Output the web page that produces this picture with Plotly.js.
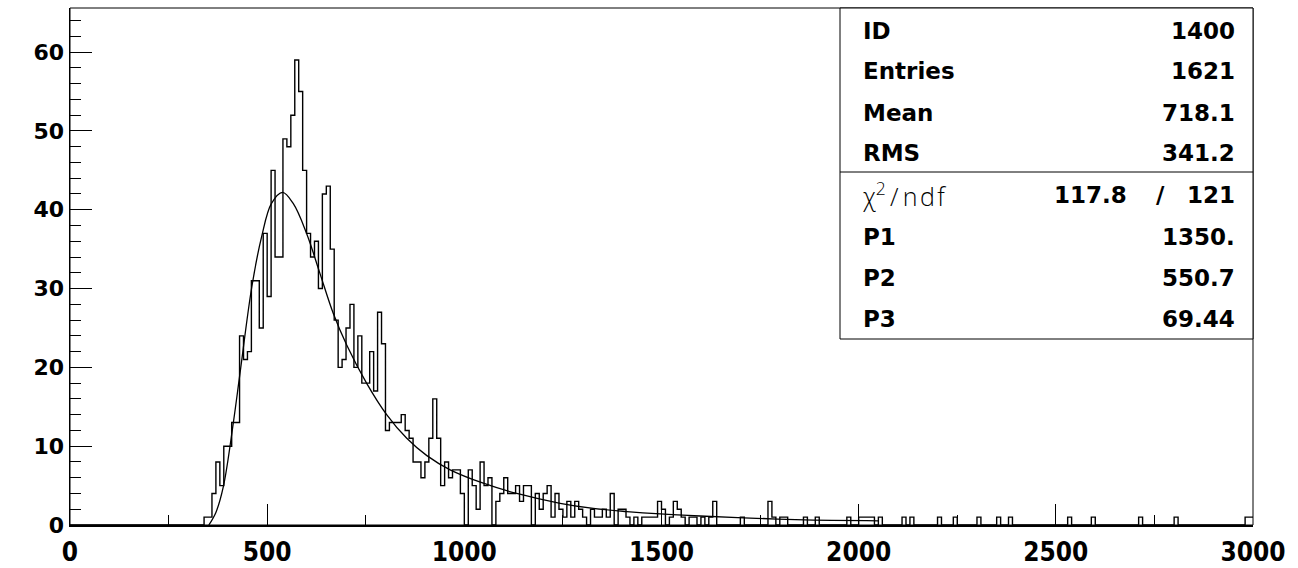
<!DOCTYPE html>
<html>
<head>
<meta charset="utf-8">
<script src="https://cdn.plot.ly/plotly-3.0.1.min.js"></script>
<style>html,body{margin:0;padding:0;background:#fff;}#chart{width:1298px;height:568px;}</style>
</head>
<body>
<div id="chart"></div>
<script>
// ---- Data ----
const binWidth = 10;
const firstBinLow = 340;
// bin contents from 340 to 3000, 10 per row
const counts = [
  1,1,4,8,5,10,10,13,13,24,
  21,22,31,31,25,37,29,45,34,34,
  49,48,52,59,55,45,37,34,36,30,
  42,43,35,26,20,21,25,28,20,24,
  18,18,22,17,27,23,12,13,13,13,
  14,12,11,8,8,6,8,11,16,11,
  5,8,6,7,7,4,0,7,5,2,
  8,5,6,0,3,4,6,4,4,5,
  3,5,5,0,4,2,4,5,1,4,
  2,1,3,1,3,2,1,0,2,1,
  1,2,1,4,0,2,2,1,0,1,
  0,1,1,1,1,3,2,0,1,3,
  2,1,0,1,1,0,1,0,1,3,
  0,0,0,0,0,0,1,0,0,0,
  0,0,0,3,1,0,1,1,0,0,
  0,0,1,0,0,1,0,0,0,0,
  0,0,0,1,0,0,1,1,1,1,
  0,1,0,0,0,0,0,1,0,1,
  0,0,0,0,0,0,1,0,0,0,
  1,0,0,0,0,0,1,0,0,0,
  0,1,0,0,1,0,0,0,0,0,
  0,0,0,0,0,0,0,0,0,1,
  0,0,0,0,0,1,0,0,0,0,
  0,0,0,0,0,0,0,1,0,0,
  0,0,0,0,0,0,1,0,0,0,
  0,0,0,0,0,0,0,0,0,0,
  0,0,0,0,1,1
];
// fitted curve
const fitX = [352, 370, 389, 414, 431, 461, 486, 511, 539, 566, 600, 634, 668, 702, 752, 803, 854, 905, 964, 1048, 1133, 1243, 1327, 1412, 1497, 1598, 1741, 1885, 2020, 2050];
const fitY = [0, 1.6, 4.9, 12.9, 19.2, 30.2, 36.6, 40.8, 42.2, 40.8, 37.0, 31.9, 26.8, 22.8, 18.0, 14.0, 11.0, 8.8, 7.0, 5.3, 4.0, 2.75, 2.1, 1.7, 1.4, 1.14, 0.85, 0.63, 0.55, 0.53];

const statLabels = ['ID', 'Entries', 'Mean', 'RMS'];
const statValues = ['1400', '1621', '718.1', '341.2'];
const fitLabels = ['P1', 'P2', 'P3'];
const fitValues = ['1350.', '550.7', '69.44'];
const chi2Text = '\u03C7<sup>2</sup>\u2009/\u2009n\u200Ad\u200Af';
const chi2Value = '117.8';
const ndfValue = '121';

// ---- Build step outline ----
const hx = [0], hy = [0];
for (let i = 0; i < counts.length; i++) {
  hx.push(firstBinLow + i * binWidth);
  hy.push(counts[i]);
}
hx.push(firstBinLow + counts.length * binWidth);
hy.push(counts[counts.length - 1]);

// ---- geometry helpers (plot area: x 70..1253, y 8..525) ----
const L = 70, R = 1253, T = 8, B = 525;
const px = p => (p - L) / (R - L);
const py = p => (B - p) / (B - T);

const boldFont = {family: 'DejaVu Sans, Liberation Sans, Arial', size: 23, color: '#000', weight: 'bold'};
const tickFontY = {family: 'DejaVu Sans, Liberation Sans, Arial', size: 22, color: '#000', weight: 'bold'};
const annotations = [];
const rowsTop = [31, 71, 113, 153];
statLabels.forEach((t, i) => {
  annotations.push({xref:'paper', yref:'paper', x: px(861), y: py(rowsTop[i]), text: t, showarrow:false, xanchor:'left', yanchor:'middle', font: boldFont});
  annotations.push({xref:'paper', yref:'paper', x: px(1237), y: py(rowsTop[i]), text: statValues[i], showarrow:false, xanchor:'right', yanchor:'middle', font: boldFont});
});
const rowsBot = [237, 278, 319];
fitLabels.forEach((t, i) => {
  annotations.push({xref:'paper', yref:'paper', x: px(861), y: py(rowsBot[i]), text: t, showarrow:false, xanchor:'left', yanchor:'middle', font: boldFont});
  annotations.push({xref:'paper', yref:'paper', x: px(1237), y: py(rowsBot[i]), text: fitValues[i], showarrow:false, xanchor:'right', yanchor:'middle', font: boldFont});
});
annotations.push({xref:'paper', yref:'paper', x: px(861), y: py(195), text: chi2Text, showarrow:false, xanchor:'left', yanchor:'middle',
  font: {family: 'DejaVu Sans ExtraLight, Open Sans, DejaVu Sans', size: 25, color: '#000', weight: 300}});
annotations.push({xref:'paper', yref:'paper', x: px(1129), y: py(195), text: chi2Value, showarrow:false, xanchor:'right', yanchor:'middle', font: boldFont});
annotations.push({xref:'paper', yref:'paper', x: px(1160), y: py(195), text: '/', showarrow:false, xanchor:'center', yanchor:'middle', font: boldFont});
annotations.push({xref:'paper', yref:'paper', x: px(1237), y: py(195), text: ndfValue, showarrow:false, xanchor:'right', yanchor:'middle', font: boldFont});

const shapes = [
  {type:'rect', xref:'paper', yref:'paper', x0:0, x1:1, y0:0, y1:1, line:{color:'#000', width:1}},
  {type:'rect', xref:'paper', yref:'paper', x0:px(840), x1:1, y0:py(339), y1:1, line:{color:'#000', width:1}, fillcolor:'rgba(255,255,255,1)', layer:'above'},
  {type:'line', xref:'paper', yref:'paper', x0:px(840), x1:1, y0:py(172), y1:py(172), line:{color:'#000', width:1}}
];

const traces = [
  {type:'scatter', mode:'lines', x: hx, y: hy, line:{shape:'hv', color:'#000', width:1.4}, hoverinfo:'skip'},
  {type:'scatter', mode:'lines', x: fitX, y: fitY, line:{shape:'spline', smoothing:1, color:'#000', width:1.3}, hoverinfo:'skip'}
];

const layout = {
  width:1298, height:568,
  margin:{l:70, r:45, t:8, b:43, pad:0},
  paper_bgcolor:'#fff', plot_bgcolor:'#fff',
  showlegend:false,
  xaxis:{range:[0,3000], tickmode:'linear', tick0:0, dtick:500, ticks:'inside', ticklen:21, tickwidth:1, tickcolor:'#000',
    showgrid:false, zeroline:false, showline:true, linewidth:2, linecolor:'#000',
    ticklabelstandoff:3,
    tickfont:{family:'Liberation Sans Narrow, DejaVu Sans Condensed, Liberation Sans', size:26, color:'#000', weight:'bold'},
    minor:{tickmode:'linear', tick0:0, dtick:250, ticks:'inside', ticklen:10, tickwidth:1, tickcolor:'#000', showgrid:false}},
  yaxis:{range:[0,65.6], tickmode:'linear', tick0:0, dtick:10, ticks:'inside', ticklen:22, tickwidth:1, tickcolor:'#000',
    showgrid:false, zeroline:false, showline:true, linewidth:1.5, linecolor:'#000',
    tickfont:tickFontY,
    minor:{tickmode:'linear', tick0:0, dtick:2, ticks:'inside', ticklen:11, tickwidth:1, tickcolor:'#000', showgrid:false}},
  annotations: annotations,
  shapes: shapes
};

Plotly.newPlot('chart', traces, layout, {displayModeBar:false, staticPlot:true});
</script>
</body>
</html>
